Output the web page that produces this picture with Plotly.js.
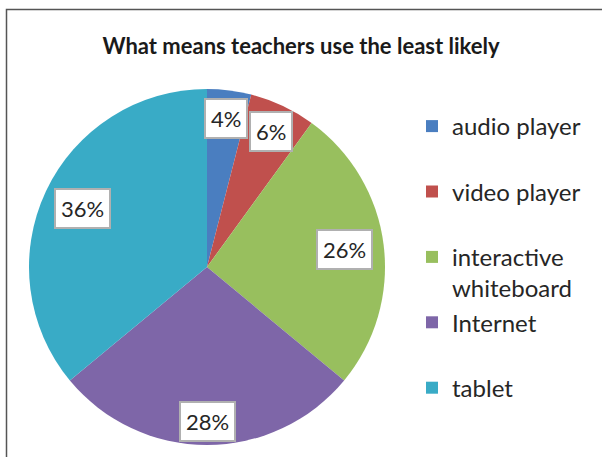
<!DOCTYPE html>
<html>
<head>
<meta charset="utf-8">
<script src="https://cdn.plot.ly/plotly-3.0.1.min.js"></script>
<style>html,body{margin:0;padding:0;background:#fff;}#chart{width:602px;height:457px;}</style>
</head>
<body>
<div id="chart"></div>
<script>
// ---- data ----
const categories = ["audio player", "video player", "interactive whiteboard", "Internet", "tablet"];
const legendLabels = ["audio player<br> ", "video player<br> ", "interactive<br>whiteboard", "Internet<br> ", "tablet"];
const percentages = [4, 6, 26, 28, 36];
const chartTitle = "What means teachers use the least likely";

// ---- style ----
const colors = ["#4A7EC0", "#C0504D", "#98BF5E", "#7E66A8", "#39ABC6"];
const labelRadius = [0.84, 0.84, 0.78, 0.87, 0.77];
const W = 602, H = 457;
const cx = 207, cy = 267, R = 178;
const FONT = "Lato, 'Open Sans', sans-serif";

const pie = {
  type: "pie",
  labels: legendLabels,
  values: percentages,
  customdata: categories,
  sort: false,
  direction: "clockwise",
  rotation: 0,
  textinfo: "none",
  hovertemplate: "%{customdata}: %{value}%<extra></extra>",
  marker: { colors: colors, line: { width: 0 } },
  domain: { x: [(cx - R) / W, (cx + R) / W], y: [1 - (cy + R) / H, 1 - (cy - R) / H] },
  showlegend: true
};

// data labels placed from the slice angles
const total = percentages.reduce((a, b) => a + b, 0);
let cum = 0;
const annotations = percentages.map((v, i) => {
  const mid = (cum + v / 2) / total * 2 * Math.PI;
  cum += v;
  const px = cx + labelRadius[i] * R * Math.sin(mid);
  const py = cy - labelRadius[i] * R * Math.cos(mid);
  return {
    xref: "paper", yref: "paper", x: px / W, y: 1 - py / H,
    xanchor: "center", yanchor: "middle", showarrow: false,
    text: Math.round(v / total * 100) + "%",
    font: { family: FONT, size: 22, color: "#262626" },
    bgcolor: "#ffffff", bordercolor: "#B0B0B0", borderwidth: 2, borderpad: 5
  };
});

const layout = {
  width: W, height: H,
  margin: { l: 0, r: 0, t: 0, b: 0 },
  paper_bgcolor: "#ffffff",
  title: {
    text: "<b>" + chartTitle + "</b>",
    x: 301 / W, xanchor: "center", y: 1 - 46 / H, yanchor: "middle",
    font: { family: FONT, size: 22, color: "#1a1a1a" }
  },
  legend: {
    x: 412 / W, xanchor: "left", y: 1 - 104 / H, yanchor: "top",
    valign: "top", traceorder: "normal",
    font: { family: FONT, size: 24, color: "#262626" },
    bgcolor: "rgba(0,0,0,0)"
  },
  shapes: [{
    type: "rect", xref: "paper", yref: "paper",
    x0: 6.5 / W, x1: 1.1, y0: -0.1, y1: 1 - 9.5 / H,
    line: { color: "#555555", width: 1.5 }, fillcolor: "rgba(0,0,0,0)", layer: "below"
  }],
  annotations: annotations
};

Plotly.newPlot("chart", [pie], layout, { displayModeBar: false, staticPlot: true });
</script>
</body>
</html>
